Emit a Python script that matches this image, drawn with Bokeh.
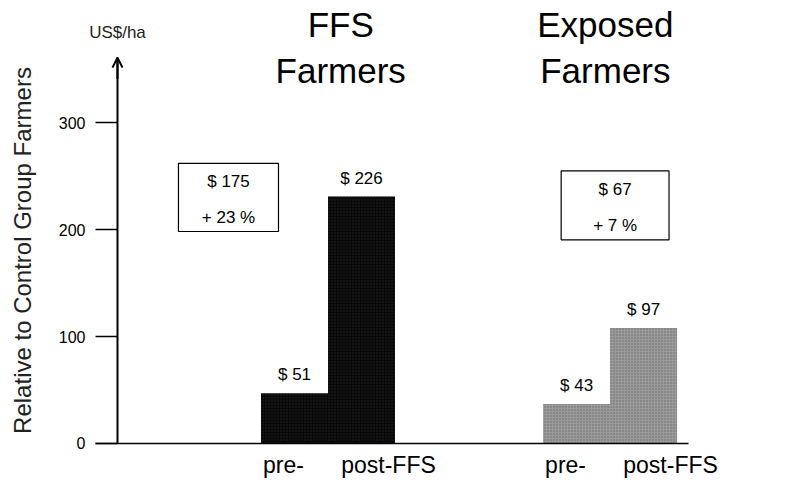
from bokeh.plotting import figure
from bokeh.models import (Range1d, FixedTicker, Label, LabelSet, ColumnDataSource,
                          Arrow, OpenHead, BoxAnnotation)
from bokeh.core.properties import value
from bokeh.embed import file_html
from bokeh.resources import INLINE

# ---- data ----
groups = ["FFS", "Exposed"]
group_titles = [["FFS", "Farmers"], ["Exposed", "Farmers"]]
phases = ["pre-", "post-FFS"]
values = [[47, 231], [37, 108]]            # bar heights, US$/ha
value_labels = [["$ 51", "$ 226"], ["$ 43", "$ 97"]]
box_lines = [["$ 175", "+ 23 %"], ["$ 67", "+ 7 %"]]
y_ticks = [0, 100, 200, 300]
y_label = "Relative to Control Group Farmers"
unit_label = "US$/ha"

FONT = "Liberation Sans"

# ---- layout constants (x in bar widths, y in US$/ha) ----
X0, X1 = -3.888, 7.888          # visible x extent
Y0, Y1 = -35.55, 414.4          # visible y extent
X_AXIS = -2.142                 # where the y axis stands
Y_TOP = 361                     # arrow tip of the y axis
BASE_L, BASE_R = -2.470, 6.381  # extent of the baseline
group_step = 4.21               # distance between group starts
title_x = [1.19, 5.14]
title_y = [380, 337]
box_rect = [(-1.232, 0.261, 198.3, 262.0), (4.48, 6.09, 190.5, 255.0)]

p = figure(width=789, height=481, output_backend="svg", toolbar_location=None,
           x_range=Range1d(X0, X1), y_range=Range1d(Y0, Y1),
           min_border_left=0, min_border_right=0, min_border_top=0,
           min_border_bottom=0)
p.outline_line_color = None
p.xgrid.visible = False
p.ygrid.visible = False
p.background_fill_color = "white"
p.border_fill_color = "white"

# bars
xs, tops, cols, hcols, lbls, cat_txt, cat_off = [], [], [], [], [], [], []
bar_colors = ["#080808", "#9a9a9a"]
hatch_colors = ["#222222", "#6a6a6a"]
for gi, g in enumerate(groups):
    for pi, ph in enumerate(phases):
        x = gi * group_step + pi + 0.5
        xs.append(x)
        tops.append(values[gi][pi])
        cols.append(bar_colors[gi])
        hcols.append(hatch_colors[gi])
        lbls.append(value_labels[gi][pi])
        cat_txt.append(ph)
        cat_off.append(-11 if pi == 0 else 27)

src = ColumnDataSource(dict(x=xs, top=tops, color=cols, hcol=hcols, label=lbls,
                            zero=[0] * len(xs), cat=cat_txt, cat_off=cat_off))
p.vbar(x="x", top="top", width=1.0, bottom=0, fill_color="color", line_color=None,
       hatch_pattern="dot", hatch_color="hcol", hatch_scale=3, hatch_weight=1.5,
       source=src)

p.add_layout(LabelSet(x="x", y="top", text="label", source=src, y_offset=13,
                      text_align="center", text_baseline="alphabetic",
                      text_font=value(FONT), text_font_size="17px", text_color="black"))

p.add_layout(LabelSet(x="x", y="zero", text="cat", source=src, x_offset="cat_off",
                      y_offset=-30, text_align="center", text_baseline="alphabetic",
                      text_font=value(FONT), text_font_size="23px", text_color="black"))

# group titles
tx, ty, tt = [], [], []
for gi, lines in enumerate(group_titles):
    for li, t in enumerate(lines):
        tx.append(title_x[gi])
        ty.append(title_y[li])
        tt.append(t)
tsrc = ColumnDataSource(dict(x=tx, y=ty, t=tt))
p.add_layout(LabelSet(x="x", y="y", text="t", source=tsrc, text_align="center",
                      text_baseline="alphabetic", text_font=value(FONT),
                      text_font_size="35px", text_color="black"))

# boxes with summary
for bi, (l, r, b, t) in enumerate(box_rect):
    p.add_layout(BoxAnnotation(left=l, right=r, bottom=b, top=t, fill_color="white",
                               fill_alpha=1, line_color="black", line_alpha=1,
                               line_width=1.2))
    cx = (l + r) / 2
    cy = (b + t) / 2
    for li, txt in enumerate(box_lines[bi]):
        p.add_layout(Label(x=cx, y=cy, y_offset=(16 if li == 0 else -20), text=txt,
                           text_align="center", text_baseline="middle",
                           text_font=FONT, text_font_size="17px", text_color="black"))

# y axis drawn at a fixed location inside the frame
ya = p.yaxis[0]
ya.fixed_location = X_AXIS
ya.bounds = (0, Y_TOP)
ya.ticker = FixedTicker(ticks=y_ticks)
ya.major_tick_out = 22
ya.major_tick_in = 0
ya.minor_tick_line_color = None
ya.axis_line_width = 2
ya.major_tick_line_width = 1.3
ya.major_label_text_font = FONT
ya.major_label_text_font_size = "16px"
ya.major_label_text_color = "black"
ya.major_label_standoff = 10
ya.axis_label = y_label
ya.axis_label_text_font = FONT
ya.axis_label_text_font_size = "24px"
ya.axis_label_text_font_style = "normal"
ya.axis_label_text_color = "#222222"
ya.axis_label_standoff = 20

xa = p.xaxis[0]
xa.fixed_location = 0
xa.bounds = (BASE_L, BASE_R)
xa.ticker = FixedTicker(ticks=[])
xa.major_tick_line_color = None
xa.minor_tick_line_color = None
xa.axis_line_width = 1.5
xa.major_label_text_font_size = "0px"

# arrow at top of y axis
p.add_layout(Arrow(end=OpenHead(size=10, line_width=2), x_start=X_AXIS, y_start=Y_TOP - 20,
                   x_end=X_AXIS, y_end=Y_TOP, line_width=2))

usrc = ColumnDataSource(dict(x=[X_AXIS], y=[Y_TOP], t=[unit_label]))
p.add_layout(LabelSet(x="x", y="y", text="t", source=usrc, y_offset=20,
                      text_align="center", text_baseline="alphabetic",
                      text_font=value(FONT), text_font_size="17px", text_color="#222222"))

open("out.html", "w").write(file_html(p, INLINE))
